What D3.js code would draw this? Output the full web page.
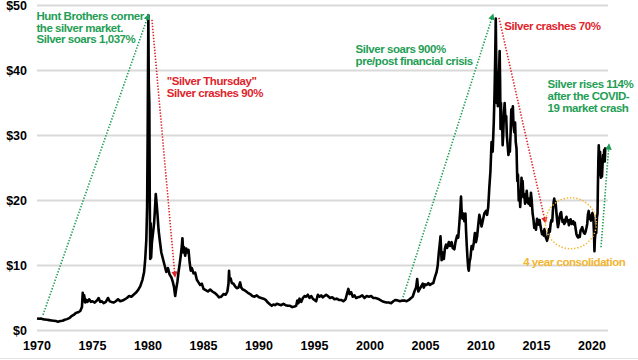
<!DOCTYPE html>
<html>
<head>
<meta charset="utf-8">
<script src="https://cdn.jsdelivr.net/npm/d3@7"></script>
<style>
  body { margin: 0; background: #fff; }
  svg text { font-family: "Liberation Sans", Arial, sans-serif; font-weight: bold; }
</style>
</head>
<body>
<div id="viz"></div>
<script>

// silver price, US$ per ounce: [decimal year, price]
var series = [
  [1970.0,1.85],[1970.2,1.8],[1970.35,1.85],[1970.5,1.75],[1970.7,1.7],[1970.9,1.65],[1971.1,1.6],[1971.3,1.55],
  [1971.5,1.5],[1971.7,1.45],[1971.9,1.35],[1972.1,1.45],[1972.3,1.5],[1972.5,1.65],[1972.7,1.75],[1972.9,1.9],
  [1973.1,2.2],[1973.3,2.4],[1973.5,2.7],[1973.7,2.8],[1973.9,3.0],[1974.05,3.6],[1974.12,5.8],[1974.18,4.5],
  [1974.25,5.4],[1974.35,4.3],[1974.45,4.7],[1974.55,4.4],[1974.7,4.8],[1974.85,4.4],[1975.0,4.5],[1975.2,4.3],
  [1975.4,4.6],[1975.55,5.0],[1975.7,4.4],[1975.85,4.5],[1976.0,4.2],[1976.2,4.4],[1976.4,5.0],[1976.55,4.5],
  [1976.7,4.4],[1976.9,4.3],[1977.1,4.5],[1977.3,4.8],[1977.5,4.5],[1977.7,4.6],[1977.9,4.8],[1978.1,5.0],
  [1978.3,5.3],[1978.5,5.2],[1978.7,5.5],[1978.9,5.8],[1979.1,6.2],[1979.3,6.8],[1979.5,7.8],[1979.65,9.0],
  [1979.75,11.0],[1979.85,14.0],[1979.92,19.0],[1979.97,30.0],[1980.03,48.5],[1980.07,38.0],[1980.12,35.0],
  [1980.16,20.0],[1980.2,11.0],[1980.24,16.5],[1980.28,11.2],[1980.35,13.5],[1980.45,15.0],[1980.55,16.5],
  [1980.62,18.5],[1980.7,21.0],[1980.78,19.5],[1980.85,18.0],[1980.95,15.5],[1981.05,14.0],[1981.2,12.0],
  [1981.35,11.0],[1981.5,10.0],[1981.65,9.0],[1981.8,9.6],[1981.95,8.6],[1982.1,8.2],[1982.25,7.4],[1982.35,6.6],
  [1982.45,5.3],[1982.55,6.5],[1982.65,7.5],[1982.75,9.0],[1982.85,10.2],[1982.95,11.5],[1983.05,13.0],
  [1983.1,14.2],[1983.18,12.0],[1983.25,12.8],[1983.35,11.5],[1983.45,12.6],[1983.55,12.0],[1983.65,12.4],
  [1983.75,10.5],[1983.85,9.2],[1983.95,9.6],[1984.1,8.8],[1984.25,8.9],[1984.4,7.8],[1984.55,7.4],[1984.7,7.0],
  [1984.85,7.2],[1985.0,6.4],[1985.2,6.2],[1985.4,6.0],[1985.6,6.3],[1985.8,6.0],[1986.0,5.8],[1986.2,5.5],
  [1986.4,5.1],[1986.6,5.2],[1986.8,5.6],[1987.0,5.5],[1987.15,6.0],[1987.25,7.2],[1987.3,9.2],[1987.35,7.8],
  [1987.45,8.0],[1987.55,7.3],[1987.7,7.2],[1987.85,6.8],[1988.0,6.5],[1988.15,6.6],[1988.3,7.4],[1988.4,6.6],
  [1988.55,6.3],[1988.7,6.2],[1988.85,6.0],[1989.0,5.8],[1989.2,5.6],[1989.4,5.3],[1989.6,5.2],[1989.8,5.4],
  [1990.0,5.1],[1990.2,5.0],[1990.4,4.9],[1990.6,4.7],[1990.8,4.3],[1991.0,4.0],[1991.15,3.8],[1991.3,4.0],
  [1991.45,3.9],[1991.6,4.1],[1991.8,4.0],[1992.0,3.9],[1992.2,4.1],[1992.4,3.9],[1992.6,3.8],[1992.8,3.8],
  [1993.0,3.6],[1993.2,3.7],[1993.35,3.8],[1993.45,4.6],[1993.55,4.2],[1993.65,4.9],[1993.8,4.4],[1993.95,5.0],
  [1994.1,5.3],[1994.25,5.2],[1994.4,5.5],[1994.55,5.0],[1994.7,5.3],[1994.85,4.9],[1995.0,4.7],[1995.15,4.5],
  [1995.3,5.5],[1995.45,5.2],[1995.6,5.4],[1995.75,5.1],[1995.9,5.3],[1996.05,5.5],[1996.2,5.3],[1996.4,5.0],
  [1996.6,5.1],[1996.8,4.8],[1997.0,4.9],[1997.2,4.7],[1997.4,4.7],[1997.6,4.5],[1997.8,4.8],[1997.95,5.8],
  [1998.05,6.4],[1998.15,5.6],[1998.3,5.9],[1998.45,5.2],[1998.6,5.4],[1998.75,5.0],[1998.9,5.1],[1999.1,5.2],
  [1999.3,5.4],[1999.5,5.0],[1999.7,5.3],[1999.9,5.2],[2000.1,5.3],[2000.3,5.0],[2000.5,5.0],[2000.7,4.9],
  [2000.9,4.7],[2001.1,4.5],[2001.3,4.4],[2001.5,4.3],[2001.7,4.3],[2001.9,4.2],[2002.1,4.5],[2002.3,4.7],
  [2002.5,4.6],[2002.7,4.5],[2002.9,4.6],[2003.1,4.6],[2003.3,4.5],[2003.5,4.7],[2003.7,5.0],[2003.85,5.2],
  [2004.0,6.0],[2004.15,6.6],[2004.25,7.9],[2004.35,6.0],[2004.45,6.3],[2004.55,6.6],[2004.65,6.9],[2004.75,7.2],
  [2004.85,6.6],[2004.95,7.1],[2005.1,7.0],[2005.25,7.3],[2005.4,7.0],[2005.55,7.2],[2005.7,7.3],[2005.85,8.2],
  [2006.0,9.0],[2006.1,10.0],[2006.2,12.0],[2006.3,13.5],[2006.35,14.5],[2006.45,10.8],[2006.55,12.0],
  [2006.65,11.0],[2006.75,12.6],[2006.85,13.2],[2006.95,12.7],[2007.1,13.6],[2007.2,13.0],[2007.35,13.6],
  [2007.45,12.7],[2007.6,12.5],[2007.7,13.6],[2007.85,14.6],[2007.95,14.3],[2008.05,16.5],[2008.15,19.0],
  [2008.2,20.6],[2008.25,18.5],[2008.33,17.2],[2008.4,18.0],[2008.5,16.8],[2008.6,18.0],[2008.65,15.5],
  [2008.72,13.0],[2008.78,11.2],[2008.85,9.6],[2008.9,9.2],[2008.97,10.6],[2009.05,11.2],[2009.15,13.0],
  [2009.25,12.5],[2009.35,13.5],[2009.45,15.0],[2009.55,13.6],[2009.65,14.5],[2009.75,16.2],[2009.85,17.8],
  [2009.95,17.0],[2010.05,16.0],[2010.15,16.8],[2010.3,18.0],[2010.45,18.4],[2010.55,17.8],[2010.65,19.0],
  [2010.75,22.0],[2010.85,24.5],[2010.95,29.0],[2011.05,27.5],[2011.15,32.0],[2011.22,36.5],[2011.28,42.0],
  [2011.33,48.0],[2011.37,42.0],[2011.42,35.0],[2011.47,37.5],[2011.52,34.5],[2011.57,39.0],[2011.63,40.0],
  [2011.68,43.0],[2011.72,38.5],[2011.76,31.0],[2011.8,35.0],[2011.85,31.0],[2011.9,32.5],[2011.95,28.5],
  [2012.0,30.0],[2012.07,33.5],[2012.13,35.0],[2012.2,32.5],[2012.27,33.0],[2012.33,30.0],[2012.4,28.5],
  [2012.47,27.0],[2012.53,28.0],[2012.6,27.5],[2012.67,30.5],[2012.73,34.0],[2012.8,33.0],[2012.87,34.5],
  [2012.93,31.5],[2013.0,30.5],[2013.07,32.0],[2013.13,29.0],[2013.2,28.0],[2013.27,23.0],[2013.33,24.0],
  [2013.4,20.0],[2013.47,21.5],[2013.53,19.0],[2013.6,21.0],[2013.65,23.5],[2013.7,21.8],[2013.75,23.0],
  [2013.82,20.5],[2013.9,21.0],[2013.97,19.5],[2014.05,20.0],[2014.12,21.5],[2014.2,19.8],[2014.28,19.5],
  [2014.35,20.3],[2014.43,19.2],[2014.5,21.2],[2014.57,20.0],[2014.65,18.0],[2014.72,17.2],[2014.8,15.8],
  [2014.87,16.3],[2014.95,15.5],[2015.05,17.2],[2015.12,16.8],[2015.2,16.3],[2015.28,17.0],[2015.35,16.2],
  [2015.42,15.5],[2015.5,14.8],[2015.58,15.2],[2015.65,14.6],[2015.72,15.6],[2015.8,14.5],[2015.87,14.2],
  [2015.95,13.8],[2016.05,14.5],[2016.13,15.6],[2016.2,15.2],[2016.28,16.5],[2016.35,17.0],[2016.42,16.8],
  [2016.48,18.5],[2016.55,19.8],[2016.6,20.3],[2016.65,19.3],[2016.72,19.8],[2016.8,18.0],[2016.87,16.8],
  [2016.93,15.9],[2017.0,16.5],[2017.08,17.5],[2017.15,18.0],[2017.22,18.2],[2017.28,17.3],[2017.35,16.7],
  [2017.42,17.0],[2017.5,16.4],[2017.57,16.6],[2017.63,17.2],[2017.7,17.5],[2017.77,16.8],[2017.85,17.0],
  [2017.92,16.2],[2018.0,17.0],[2018.08,17.1],[2018.15,16.4],[2018.22,16.5],[2018.3,16.8],[2018.37,16.3],
  [2018.45,16.6],[2018.52,15.7],[2018.6,14.8],[2018.67,14.5],[2018.75,14.3],[2018.82,14.6],[2018.9,14.4],
  [2018.97,15.4],[2019.05,15.6],[2019.12,15.9],[2019.2,15.3],[2019.28,15.0],[2019.35,14.9],[2019.42,15.2],
  [2019.5,15.8],[2019.57,16.4],[2019.63,17.8],[2019.7,18.4],[2019.77,17.2],[2019.83,17.6],[2019.9,16.9],
  [2019.97,17.8],[2020.05,18.1],[2020.12,17.4],[2020.18,15.0],[2020.22,12.2],[2020.26,14.0],[2020.32,15.2],
  [2020.38,15.0],[2020.45,17.5],[2020.5,18.0],[2020.53,22.0],[2020.57,26.0],[2020.61,28.5],[2020.65,26.0],
  [2020.69,24.0],[2020.73,27.5],[2020.77,24.5],[2020.81,23.5],[2020.86,24.8],[2020.9,23.7],[2020.95,25.5],
  [2021.0,27.0],[2021.05,26.3],[2021.1,27.8],[2021.15,26.0],[2021.2,28.2]
];

var yTicks = [0, 10, 20, 30, 40, 50];
var xTicks = [1970, 1975, 1980, 1985, 1990, 1995, 2000, 2005, 2010, 2015, 2020];

// annotation arrows, in (year, price) terms
var arrows = [
  {from: [1970.54, 2.4], to: [1980.05, 48.6], color: "green"},
  {from: [1980.36, 47.8], to: [1982.43, 8.3], color: "red"},
  {from: [2002.97, 5.1], to: [2011.08, 48.6], color: "green"},
  {from: [2011.62, 48.1], to: [2015.81, 16.6], color: "red"},
  {from: [2020.81, 12.8], to: [2021.53, 28.6], color: "green"}
];
var notes = [
  {lines: ["Hunt Brothers corner", "the silver market.", "Silver soars 1,037%"], at: [1969.95, 47.8], color: "green"},
  {lines: ["\"Silver Thursday\"", "Silver crashes 90%"], at: [1981.7, 37.8], color: "red"},
  {lines: ["Silver soars 900%", "pre/post financial crisis"], at: [1998.7, 42.7], color: "green"},
  {lines: ["Silver crashes 70%"], at: [2012.1, 46.2], color: "red"},
  {lines: ["Silver rises 114%", "after the COVID-", "19 market crash"], at: [2016.0, 37.3], color: "green"},
  {lines: ["4 year consolidation"], at: [2013.8, 9.9], color: "orange"}
];
var consolidation = [2018.1, 16.5];

var _colors = {green: "#1f9e55", red: "#e0242c", orange: "#f2b630", grid: "#d9d9d9"};

var svg = d3.select("#viz")
    .append("svg")
    .attr("width", 638)
    .attr("height", 360);

var x = d3.scaleLinear().domain([1970, 2020]).range([37, 592]);
var y = d3.scaleLinear().domain([0, 50]).range([330.5, 5.5]);

// grid
svg.selectAll("line.grid")
    .data(yTicks)
    .enter()
    .append("line")
    .attr("class", "grid")
    .attr("x1", 37).attr("x2", 608)
    .attr("y1", function(d){ return y(d); })
    .attr("y2", function(d){ return y(d); })
    .style("stroke", _colors.grid)
    .style("stroke-width", 2);

svg.append("line")
    .attr("x1", 0).attr("x2", 638).attr("y1", 358.5).attr("y2", 358.5)
    .style("stroke", "#e4e4e4").style("stroke-width", 1);

svg.selectAll("text.ylab")
    .data(yTicks)
    .enter()
    .append("text")
    .attr("class", "ylab")
    .attr("x", 27)
    .attr("y", function(d){ return y(d) + 4.5; })
    .attr("text-anchor", "end")
    .style("font-size", "12.5px")
    .text(function(d){ return "$" + d; });

svg.selectAll("text.xlab")
    .data(xTicks)
    .enter()
    .append("text")
    .attr("class", "xlab")
    .attr("x", function(d){ return x(d); })
    .attr("y", 350)
    .attr("text-anchor", "middle")
    .style("font-size", "12.5px")
    .text(function(d){ return d; });

// price line
var line = d3.line()
    .x(function(d){ return x(d[0]); })
    .y(function(d){ return y(d[1]); });

svg.append("path")
    .datum(series)
    .attr("d", line)
    .style("fill", "none")
    .style("stroke", "#000")
    .style("stroke-width", 2.6)
    .style("stroke-linejoin", "round");

// dotted arrows
var defs = svg.append("defs");
["green", "red"].forEach(function(c){
    defs.append("marker")
        .attr("id", "head-" + c)
        .attr("viewBox", "0 0 10 10")
        .attr("refX", 8).attr("refY", 5)
        .attr("markerWidth", 4).attr("markerHeight", 4)
        .attr("markerUnits", "strokeWidth")
        .attr("orient", "auto")
        .append("path")
        .attr("d", "M0,0L10,5L0,10z")
        .style("fill", _colors[c]);
});

svg.selectAll("line.arrow")
    .data(arrows)
    .enter()
    .append("line")
    .attr("class", "arrow")
    .attr("x1", function(d){ return x(d.from[0]); })
    .attr("y1", function(d){ return y(d.from[1]); })
    .attr("x2", function(d){ return x(d.to[0]); })
    .attr("y2", function(d){ return y(d.to[1]); })
    .style("stroke", function(d){ return _colors[d.color]; })
    .style("stroke-width", 1.6)
    .style("stroke-dasharray", "1.4,1.6")
    .attr("marker-end", function(d){ return "url(#head-" + d.color + ")"; });

svg.append("circle")
    .attr("cx", x(consolidation[0]))
    .attr("cy", y(consolidation[1]))
    .attr("r", 25.5)
    .style("fill", "none")
    .style("stroke", _colors.orange)
    .style("stroke-width", 1.5)
    .style("stroke-dasharray", "1.4,1.8");

// notes
var note = svg.selectAll("text.note")
    .data(notes)
    .enter()
    .append("text")
    .attr("class", "note")
    .attr("x", function(d){ return x(d.at[0]); })
    .attr("y", function(d){ return y(d.at[1]); })
    .style("font-size", "11.5px")
    .style("letter-spacing", "-0.45px")
    .style("fill", function(d){ return _colors[d.color]; });

note.selectAll("tspan")
    .data(function(d){ return d.lines.map(function(l){ return {t: l, x: x(d.at[0])}; }); })
    .enter()
    .append("tspan")
    .attr("x", function(d){ return d.x; })
    .attr("dy", function(d, i){ return i == 0 ? 0 : 11.8; })
    .text(function(d){ return d.t; });

</script>
</body>
</html>
